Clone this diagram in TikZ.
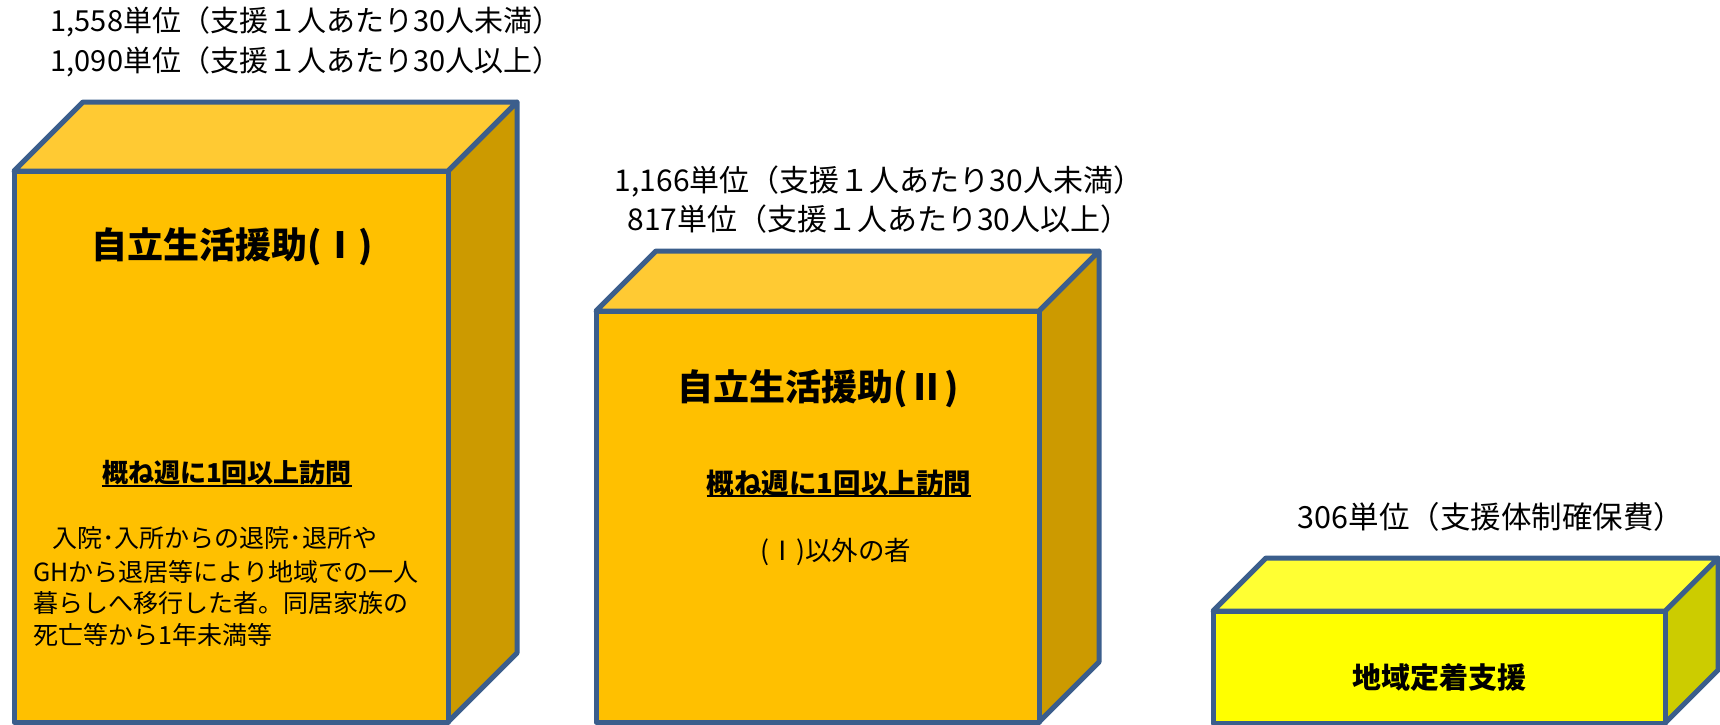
\documentclass[tikz,border=0pt]{standalone}
\usepackage{fontspec}
\setmainfont{Noto Sans CJK JP}
\definecolor{edge}{HTML}{3B5E8C}
\definecolor{orFront}{HTML}{FFC000}
\definecolor{orTop}{HTML}{FFCA33}
\definecolor{orSide}{HTML}{CC9A00}
\definecolor{yeFront}{HTML}{FFFF00}
\definecolor{yeTop}{HTML}{FFFF33}
\definecolor{yeSide}{HTML}{CCCC00}
\newcommand{\cube}[8]{% x1 x2 y1 y2 d front top side
  \filldraw[#8,boxline] (#2,#3) -- (#2+#5,#3-#5) -- (#2+#5,#4-#5) -- (#2,#4) -- cycle;
  \filldraw[#7,boxline] (#1,#3) -- (#1+#5,#3-#5) -- (#2+#5,#3-#5) -- (#2,#3) -- cycle;
  \filldraw[#6,boxline] (#1,#3) rectangle (#2,#4);
}
\tikzset{
  boxline/.style={draw=edge,line width=5pt,line join=round},
  lbl/.style={inner sep=0pt,font=\fontsize{29}{40}\selectfont,align=center},
  ttl/.style={inner sep=0pt,font=\fontsize{36}{40}\selectfont\bfseries},
  sub/.style={inner sep=0pt,font=\fontsize{26}{32}\selectfont\bfseries},
  body/.style={inner sep=0pt,font=\fontsize{25}{32}\selectfont,anchor=west},
  uline/.style={line width=2pt,black}
}
\begin{document}
\begin{tikzpicture}[x=1pt,y=-1pt]
\useasboundingbox[fill=white] (0,0) rectangle (1720,724);
% boxes
\cube{14}{448}{171}{722}{69}{orFront}{orTop}{orSide}
\cube{596}{1039}{311}{722}{60}{orFront}{orTop}{orSide}
\cube{1213}{1665}{611}{723}{53}{yeFront}{yeTop}{yeSide}
% labels above
\node[lbl] (lab1) at (306,42) {1,558単位（支援１人あたり30人未満）\\1,090単位（支援１人あたり30人以上）};
\node[lbl,font=\fontsize{30}{39}\selectfont] (lab2) at (879,200) {1,166単位（支援１人あたり30人未満）\\817単位（支援１人あたり30人以上）};
\node[lbl,font=\fontsize{30.5}{39}\selectfont] (lab3) at (1491,517) {306単位（支援体制確保費）};
% box 1
\node[ttl] (t1) at (232,247) {自立生活援助(Ⅰ)};
\node[sub] (v1) at (227,473) {概ね週に1回以上訪問};
\draw[uline] ([yshift=-3pt]v1.base west) -- ([yshift=-3pt]v1.base east);
\node[body] (p1) at (52,538) {入院･入所からの退院･退所や};
\node[body] (p2) at (33,572) {GHから退居等により地域での一人};
\node[body] (p3) at (33,603) {暮らしへ移行した者。同居家族の};
\node[body] (p4) at (33,635) {死亡等から1年未満等};
% box 2
\node[ttl] (t2) at (818,389) {自立生活援助(Ⅱ)};
\node[sub,font=\fontsize{27.5}{32}\selectfont\bfseries] (v2) at (839,483) {概ね週に1回以上訪問};
\draw[uline] ([yshift=-3pt]v2.base west) -- ([yshift=-3pt]v2.base east);
\node[inner sep=0pt,font=\fontsize{26.5}{32}\selectfont] (q2) at (836,552) {(Ⅰ)以外の者};
% box 3
\node[ttl,font=\fontsize{29}{36}\selectfont\bfseries] (t3) at (1439,678) {地域定着支援};
\end{tikzpicture}
\end{document}
